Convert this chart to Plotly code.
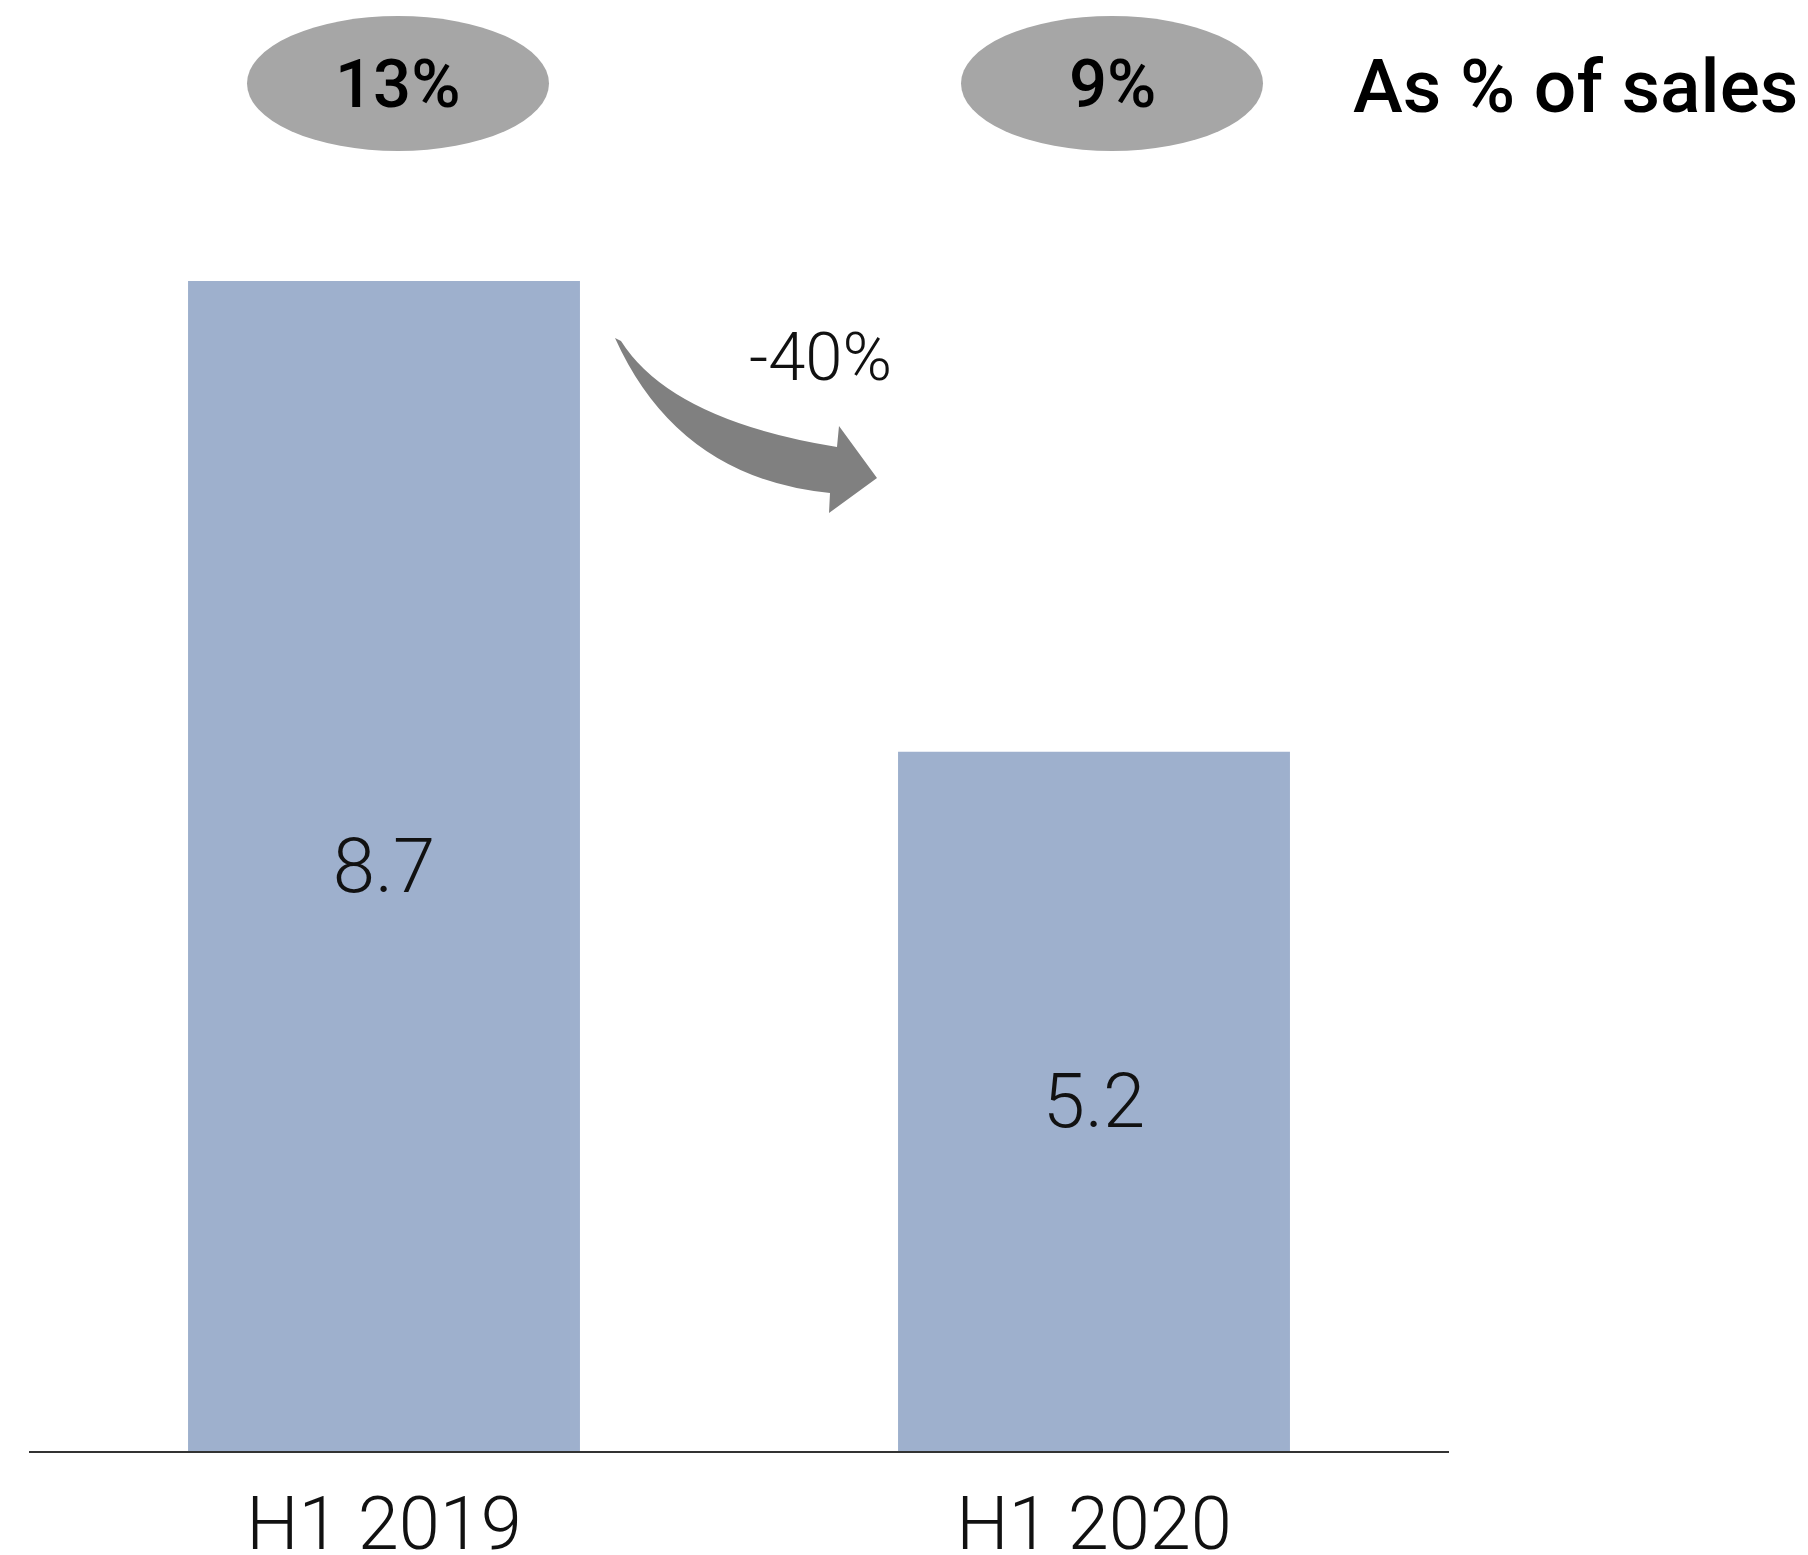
import plotly.graph_objects as go

categories = ['H1 2019', 'H1 2020']
values = [8.7, 5.2]
share_labels = ['13%', '9%']
share_title = 'As % of sales'
change_label = '-40%'

# page is 1808x1555, the html body adds an 8px margin
OFF = 8
W, H = 1808 - 2 * OFF, 1555 - OFF
BASE_Y = 1451          # page y of the baseline
LEFT_X, RIGHT_X = 29, 1449
L, R = LEFT_X - OFF, W - (RIGHT_X - OFF)
T, B = 0, H - (BASE_Y - OFF)
BAR_COLOR = '#9EB0CD'
FONT = 'Roboto'


def px(x):
    # page x -> paper
    return (x - OFF - L) / (W - L - R)


def py(y):
    # page y -> paper
    return (H - B - (y - OFF)) / (H - T - B)


fig = go.Figure(go.Bar(
    x=categories,
    y=values,
    marker=dict(color=BAR_COLOR, line=dict(width=0)),
    text=[f'{v:.1f}' for v in values],
    textposition='inside',
    insidetextanchor='middle',
    textfont=dict(family=FONT, size=76, color='#111111', weight=300),
    hoverinfo='skip',
))

# grey ellipses with the share of sales
ellipse_cx = [398, 1112]
for cx, lab in zip(ellipse_cx, share_labels):
    fig.add_shape(type='circle', xref='paper', yref='paper',
                  x0=px(cx - 151), x1=px(cx + 151), y0=py(151), y1=py(16),
                  fillcolor='#A6A6A6', line=dict(width=0), layer='above')
    fig.add_annotation(x=px(cx), y=py(84), xref='paper', yref='paper', text=lab,
                       showarrow=False, xanchor='center', yanchor='middle',
                       font=dict(family=FONT, size=67, color='#000000', weight=500))

fig.add_annotation(x=px(1351), y=py(86), xref='paper', yref='paper', text=share_title,
                   showarrow=False, xanchor='left', yanchor='middle',
                   font=dict(family=FONT, size=75, color='#000000', weight=500))

# curved arrow between the bars
pts = dict(
    t0=(615, 338), c0=(678, 478), s0=(830, 493), h0=(829, 513),
    tip=(877, 478), h1=(839, 426), s1=(837, 447), c1=(671, 420), t1=(621, 341),
)
P = {k: f'{px(x):.5f},{py(y):.5f}' for k, (x, y) in pts.items()}
path = (f"M {P['t0']} Q {P['c0']} {P['s0']} L {P['h0']} L {P['tip']} "
        f"L {P['h1']} L {P['s1']} Q {P['c1']} {P['t1']} Z")
fig.add_shape(type='path', xref='paper', yref='paper', path=path,
              fillcolor='#808080', line=dict(width=0))

fig.add_annotation(x=px(820), y=py(357), xref='paper', yref='paper', text=change_label,
                   showarrow=False, xanchor='center', yanchor='middle',
                   font=dict(family=FONT, size=67, color='#111111', weight=300))

fig.update_layout(
    width=W, height=H,
    margin=dict(l=L, r=R, t=T, b=B, pad=0, autoexpand=False),
    plot_bgcolor='white',
    paper_bgcolor='white',
    bargap=0.448,
    showlegend=False,
    xaxis=dict(
        showline=True, linecolor='#333333', linewidth=2,
        ticks='', showgrid=False, ticklabelstandoff=7, automargin=False,
        tickfont=dict(family=FONT, size=74, color='#111111', weight=300),
    ),
    yaxis=dict(visible=False, automargin=False,
               range=[0, 8.7 * (H - T - B) / 1170]),
)

fig.write_html('out.html')
